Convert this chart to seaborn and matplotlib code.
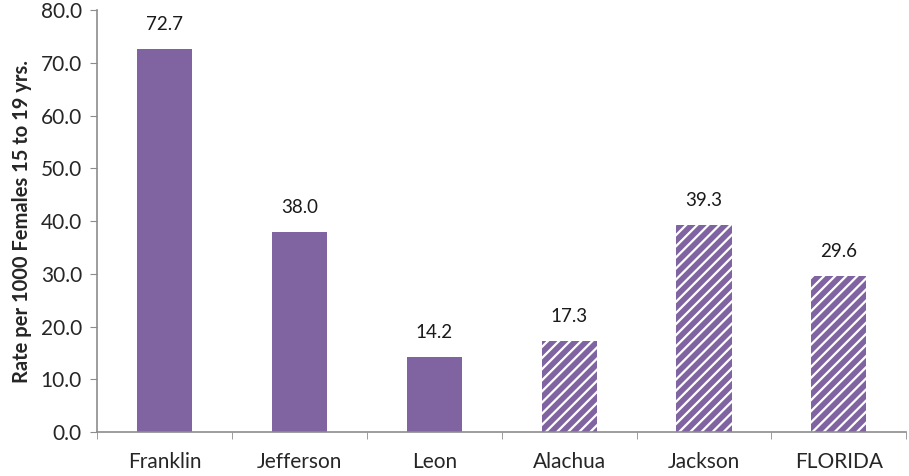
import matplotlib
matplotlib.use("Agg")
import matplotlib.pyplot as plt
import seaborn as sns
import pandas as pd
import numpy as np

counties = ["Franklin", "Jefferson", "Leon", "Alachua", "Jackson", "FLORIDA"]
rates = [72.7, 38.0, 14.2, 17.3, 39.3, 29.6]
hatched = [False, False, False, True, True, True]
yticks = [0, 10, 20, 30, 40, 50, 60, 70, 80]

sns.set_style("white")
plt.rcParams["font.family"] = ["Lato", "DejaVu Sans"]
plt.rcParams["hatch.color"] = "white"
plt.rcParams["hatch.linewidth"] = 1.6

purple = "#8064A2"
axis_gray = "#8C8C8C"

df = pd.DataFrame({"county": counties, "rate": rates})

fig = plt.figure(figsize=(9.09, 4.76), dpi=100)
ax = fig.add_axes([0.107, 0.092, 0.890, 0.887])

sns.barplot(data=df, x="county", y="rate", color=purple, width=0.41,
            saturation=1, ax=ax)

for patch, h in zip(ax.patches, hatched):
    patch.set_linewidth(0)
    patch.set_facecolor(purple)
    if h:
        patch.set_hatch("///")

for patch, v in zip(ax.patches, rates):
    ax.text(patch.get_x() + patch.get_width() / 2, v + 3.0, f"{v:.1f}",
            ha="center", va="bottom", fontsize=13.5, color="#1a1a1a")

ax.set_ylim(0, 80)
ax.set_xlim(-0.5, len(counties) - 0.5)
ax.set_yticks(yticks)
ax.set_yticklabels([f"{t:.1f}" for t in yticks], fontsize=15)
ax.set_xticks(range(len(counties)))
ax.set_xticklabels(counties, fontsize=15)
ax.tick_params(axis="x", length=0, pad=14)
ax.tick_params(axis="y", length=5, color=axis_gray, direction="out", pad=6, left=True)
ax.set_xticks(np.arange(-0.5, len(counties) + 0.5, 1), minor=True)
ax.tick_params(axis="x", which="minor", length=5, color=axis_gray, direction="out", bottom=True)

ax.set_xlabel("")
ax.set_ylabel("Rate per 1000 Females 15 to 19 yrs.", fontsize=14.5,
              fontweight="bold", labelpad=6)

for side in ["top", "right"]:
    ax.spines[side].set_visible(False)
for side in ["left", "bottom"]:
    ax.spines[side].set_color(axis_gray)
    ax.spines[side].set_linewidth(1.2)

fig.savefig("out.png", dpi=100)
